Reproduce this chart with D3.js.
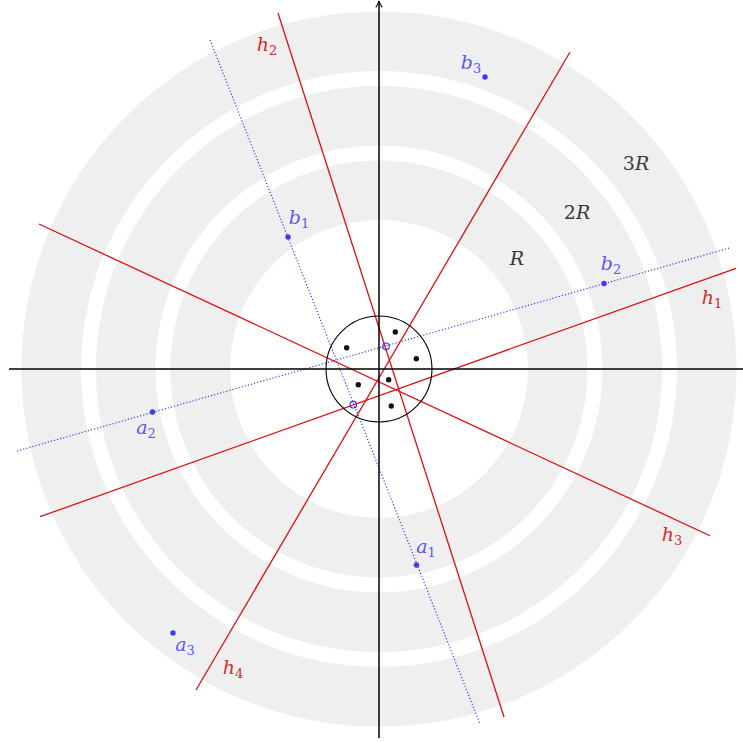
<!DOCTYPE html>
<html><head><meta charset="utf-8">
<script src="https://cdn.jsdelivr.net/npm/d3@7"></script>
<style>html,body{margin:0;padding:0;background:#fff;}svg{display:block;}
text{font-family:"DejaVu Serif","Liberation Serif",serif;}</style>
</head><body>
<svg id="c" width="743" height="742"></svg>
<script>
// ---- data (in plot units) ----
const rings = [[2, 2.8], [3, 3.8], [4, 4.8]];
const ringLabels = [
  {pre: "", name: "R", x: 1.852, y: 1.490},
  {pre: "2", name: "R", x: 2.658, y: 2.107},
  {pre: "3", name: "R", x: 3.450, y: 2.765}
];
const smallCircleR = 0.711;
const dots = [[0.219, 0.497], [-0.434, 0.286], [0.501, 0.138], [0.130, -0.144], [-0.278, -0.211], [0.165, -0.497]];
const redLines = [
  {name: "h", sub: "1", p: [[-4.550, -1.983], [4.792, 1.352]], lx: 4.470, ly: 0.913},
  {name: "h", sub: "2", p: [[-1.356, 4.779], [1.678, -4.671]], lx: -1.503, ly: 4.309},
  {name: "h", sub: "3", p: [[-4.564, 1.946], [4.443, -2.238]], lx: 3.933, ly: -2.268},
  {name: "h", sub: "4", p: [[-2.456, -4.309], [2.564, 4.255]], lx: -1.960, ly: -4.054}
];
const blueLines = [
  [[-2.268, 4.416], [1.356, -4.765]],
  [[-4.859, -1.101], [4.702, 1.624]]
];
const bluePoints = [
  {name: "a", sub: "1", x: 0.503, y: -2.631, lx: 0.631, ly: -2.430},
  {name: "b", sub: "1", x: -1.221, y: 1.772, lx: -1.074, ly: 1.987},
  {name: "a", sub: "2", x: -3.040, y: -0.577, lx: -3.128, ly: -0.832},
  {name: "b", sub: "2", x: 3.020, y: 1.148, lx: 3.114, ly: 1.369},
  {name: "a", sub: "3", x: -2.765, y: -3.544, lx: -2.604, ly: -3.745},
  {name: "b", sub: "3", x: 1.423, y: 3.919, lx: 1.235, ly: 4.067}
];
const blueCircles = [[0.094, 0.305], [-0.345, -0.479]];
const xAxisRange = [-4.966, 5.1];
const yAxisRange = [-4.953, 4.94];

// ---- scales ----
const cx = 379, cy = 369, u = 74.5;
const x = d3.scaleLinear().domain([-5, 5]).range([cx - 5 * u, cx + 5 * u]);
const y = d3.scaleLinear().domain([-5, 5]).range([cy + 5 * u, cy - 5 * u]);
const r = v => x(v) - x(0);

const svg = d3.select("#c");
const g = svg.append("g");

// rings
const arc = d3.arc();
g.selectAll("path.ring").data(rings).join("path")
  .attr("class", "ring")
  .attr("transform", `translate(${x(0)},${y(0)})`)
  .attr("d", d => arc({innerRadius: r(d[0]), outerRadius: r(d[1]), startAngle: 0, endAngle: 2 * Math.PI}))
  .attr("fill", "#efefef");

// ring labels
const rl = g.selectAll("text.rl").data(ringLabels).join("text")
  .attr("x", d => x(d.x)).attr("y", d => y(d.y) + 7)
  .attr("text-anchor", "middle").attr("font-size", 19)
  .attr("fill", "#3a3a3a");
rl.append("tspan").text(d => d.pre);
rl.append("tspan").attr("font-style", "italic").text(d => d.name);

// blue dotted lines
g.selectAll("line.bl").data(blueLines).join("line")
  .attr("x1", d => x(d[0][0])).attr("y1", d => y(d[0][1]))
  .attr("x2", d => x(d[1][0])).attr("y2", d => y(d[1][1]))
  .attr("stroke", "#3b3bf5").attr("stroke-width", 1.2).attr("stroke-dasharray", "1.2,2");

// red lines
g.selectAll("line.rl").data(redLines).join("line")
  .attr("x1", d => x(d.p[0][0])).attr("y1", d => y(d.p[0][1]))
  .attr("x2", d => x(d.p[1][0])).attr("y2", d => y(d.p[1][1]))
  .attr("stroke", "#dd1111").attr("stroke-width", 1.3);

// axes
svg.append("defs").append("marker").attr("id", "arr")
  .attr("viewBox", "0 0 10 10").attr("refX", 9).attr("refY", 5)
  .attr("markerWidth", 8).attr("markerHeight", 8).attr("orient", "auto")
  .attr("markerUnits", "userSpaceOnUse")
  .append("path").attr("d", "M1,1 Q5,4 9,5 Q5,6 1,9").attr("fill", "none").attr("stroke", "#000").attr("stroke-width", 1.3);
g.append("line").attr("x1", x(xAxisRange[0])).attr("y1", y(0)).attr("x2", x(xAxisRange[1])).attr("y2", y(0))
  .attr("stroke", "#000").attr("stroke-width", 1.5).attr("marker-end", "url(#arr)");
g.append("line").attr("x1", x(0)).attr("y1", y(yAxisRange[0])).attr("x2", x(0)).attr("y2", y(yAxisRange[1]))
  .attr("stroke", "#000").attr("stroke-width", 1.5).attr("marker-end", "url(#arr)");

// small circle
g.append("circle").attr("cx", x(0)).attr("cy", y(0)).attr("r", r(smallCircleR))
  .attr("fill", "none").attr("stroke", "#000").attr("stroke-width", 1.1);

// dots
g.selectAll("circle.dot").data(dots).join("circle")
  .attr("cx", d => x(d[0])).attr("cy", d => y(d[1])).attr("r", 2.7).attr("fill", "#111");

// blue open circles
g.selectAll("circle.bc").data(blueCircles).join("circle")
  .attr("cx", d => x(d[0])).attr("cy", d => y(d[1])).attr("r", 3.3)
  .attr("fill", "none").attr("stroke", "#2f2ff5").attr("stroke-width", 1.1);

// blue points
g.selectAll("circle.bp").data(bluePoints).join("circle")
  .attr("cx", d => x(d.x)).attr("cy", d => y(d.y)).attr("r", 2.7).attr("fill", "#3b3bf5");

function subLabel(sel, color) {
  sel.attr("text-anchor", "middle").attr("font-size", 19).attr("fill", color);
  sel.append("tspan").attr("font-style", "italic").text(d => d.name);
  sel.append("tspan").attr("font-size", 13).attr("dy", 4).text(d => d.sub);
}
subLabel(g.selectAll("text.bpl").data(bluePoints).join("text")
  .attr("x", d => x(d.lx)).attr("y", d => y(d.ly) + 3), "#5a5af0");
subLabel(g.selectAll("text.rll").data(redLines).join("text")
  .attr("x", d => x(d.lx)).attr("y", d => y(d.ly) + 3), "#d42a2a");
</script>
</body></html>
